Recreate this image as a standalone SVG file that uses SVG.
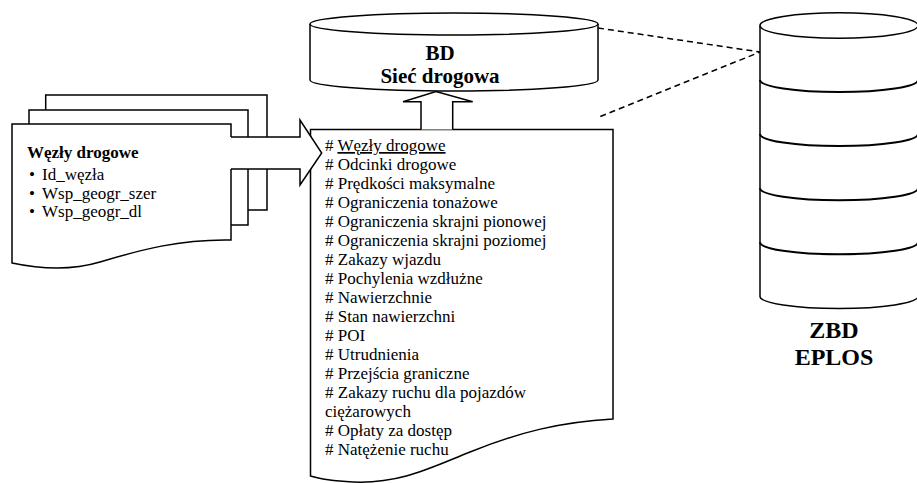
<svg xmlns="http://www.w3.org/2000/svg" width="917" height="483" viewBox="0 0 917 483">
<style>
.s{fill:#fff;stroke:#000;stroke-width:1.5;stroke-linejoin:miter}
.o{fill:none;stroke:#000;stroke-width:1.5}
.b{fill:none;stroke:#000;stroke-width:2}
.d{fill:none;stroke:#000;stroke-width:1.5;stroke-dasharray:6,4}
.t{font-family:"Liberation Serif","Times New Roman",serif;font-size:17px;fill:#000}
.h{font-family:"Liberation Serif","Times New Roman",serif;font-weight:bold;fill:#000}
</style>
<rect width="917" height="483" fill="#fff"/>
<g id="connectors">
<path class="d" d="M598,28 L760,52 L599,117"/>
</g>
<g id="zbd">
<path class="s" d="M760,25.5 L760,296.4 A79,12 0 0 0 918,296.4 L918,25.5"/>
<ellipse class="s" cx="839" cy="25.5" rx="79" ry="12.8"/>
<path class="b" d="M760,80 A79,12 0 0 0 918,80 M760,134.1 A79,12 0 0 0 918,134.1 M760,188.2 A79,12 0 0 0 918,188.2 M760,242.3 A79,12 0 0 0 918,242.3"/>
<text class="h" font-size="24" x="834" y="338" text-anchor="middle">ZBD</text>
<text class="h" font-size="24" x="834" y="365" text-anchor="middle">EPLOS</text>
</g>
<g id="bd">
<path class="s" d="M310,24 L310,80 A144,11 0 0 0 598,80 L598,24"/>
<ellipse class="s" cx="454" cy="24" rx="144" ry="11"/>
<text class="h" font-size="21" x="440" y="60" text-anchor="middle">BD</text>
<text class="h" font-size="21" x="440" y="83" text-anchor="middle">Sieć drogowa</text>
</g>
<g id="wezly">
<rect class="s" x="45.7" y="95" width="221.3" height="115"/>
<rect class="s" x="29" y="110" width="219" height="115"/>
<path class="s" d="M12,124 L231,124 L231,240 C180,239 140,250 100,262 C80,268 50,271 12,263 Z"/>
<text class="h" font-size="17" x="27" y="158">Węzły drogowe</text>
<text class="t" x="29" y="180">•</text><text class="t" x="42" y="180">Id_węzła</text>
<text class="t" x="29" y="198.5">•</text><text class="t" x="42" y="198.5">Wsp_geogr_szer</text>
<text class="t" x="29" y="217">•</text><text class="t" x="42" y="217">Wsp_geogr_dl</text>
</g>
<g id="lista">
<path class="s" d="M310.5,129.5 L613,129.5 L613,419 C560,422 520,432 470,452 C430,468 400,484 353,482 C335,481 320,479 310.5,476 Z"/>
<text class="t" x="325" y="151"># <tspan text-decoration="underline">Węzły drogowe</tspan></text>
<text class="t" x="325" y="170"># Odcinki drogowe</text>
<text class="t" x="325" y="189"># Prędkości maksymalne</text>
<text class="t" x="325" y="208"># Ograniczenia tonażowe</text>
<text class="t" x="325" y="227"># Ograniczenia skrajni pionowej</text>
<text class="t" x="325" y="246"># Ograniczenia skrajni poziomej</text>
<text class="t" x="325" y="265"># Zakazy wjazdu</text>
<text class="t" x="325" y="284"># Pochylenia wzdłużne</text>
<text class="t" x="325" y="303"># Nawierzchnie</text>
<text class="t" x="325" y="322"># Stan nawierzchni</text>
<text class="t" x="325" y="341"># POI</text>
<text class="t" x="325" y="360"># Utrudnienia</text>
<text class="t" x="325" y="379"># Przejścia graniczne</text>
<text class="t" x="325" y="398"># Zakazy ruchu dla pojazdów</text>
<text class="t" x="325" y="417">ciężarowych</text>
<text class="t" x="325" y="436"># Opłaty za dostęp</text>
<text class="t" x="325" y="455"># Natężenie ruchu</text>
</g>
<g id="arrows">
<path d="M230,137 L300,137 L300,120 L321.7,153 L300,185 L300,169 L230,169 Z" fill="#fff"/>
<path class="o" d="M231,137 L300,137 L300,120 L321.7,153 L300,185 L300,169 L231,169"/>
<path d="M421,129.5 L421,101.7 L403,101.7 L436,91.5 L472.7,101.7 L452.7,101.7 L452.7,129.5 Z" fill="#fff"/>
<path class="o" d="M421,129.5 L421,101.7 L403,101.7 L436,91.5 L472.7,101.7 L452.7,101.7 L452.7,129.5"/>
</g>
</svg>
